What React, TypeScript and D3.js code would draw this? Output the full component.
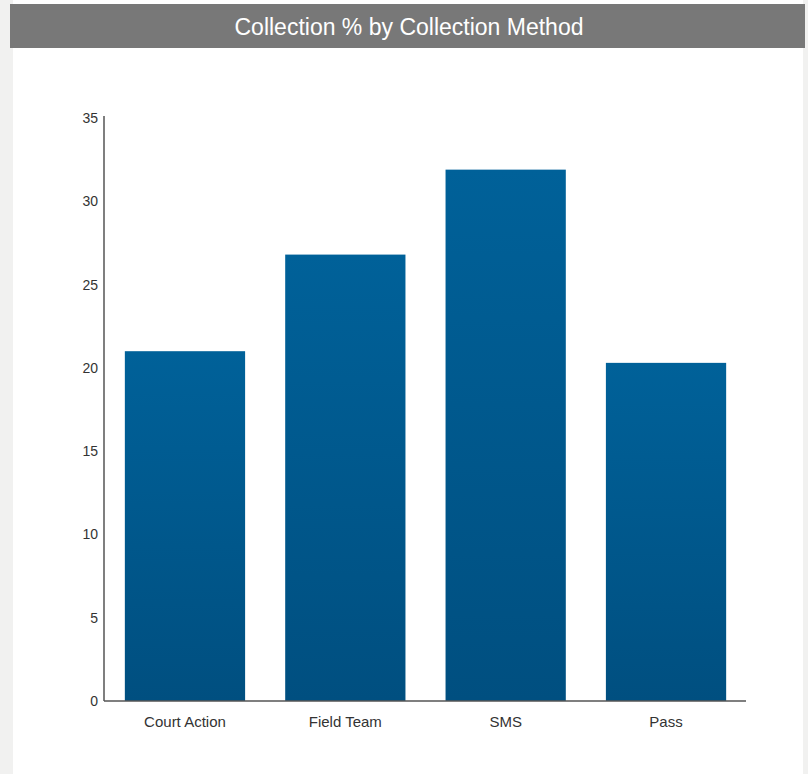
import React from "react";
import * as d3 from "d3";

const categories = ["Court Action", "Field Team", "SMS", "Pass"];
const values = [21.0, 26.8, 31.9, 20.3];
const yTicks = [0, 5, 10, 15, 20, 25, 30, 35];
const title = "Collection % by Collection Method";

export default function App() {
  const W = 808, H = 774;
  const x = d3.scaleBand<string>().domain(categories).range([104, 747]).paddingInner(0.25).paddingOuter(0.13);
  const y = d3.scaleLinear().domain([0, 35]).range([701, 118]);
  return (
    <svg width={W} height={H} style={{ position: "absolute", left: 0, top: 0 }} fontFamily="Liberation Sans, Arial, sans-serif">
      <defs>
        <linearGradient id="barGrad" x1="0" y1="0" x2="0" y2="1">
          <stop offset="0%" stopColor="#006199" />
          <stop offset="100%" stopColor="#004f80" />
        </linearGradient>
      </defs>
      <rect x={0} y={0} width={W} height={H} fill="#ffffff" />
      <rect x={0} y={0} width={13} height={H} fill="#f1f1f0" />
      <rect x={803} y={0} width={5} height={H} fill="#f1f1f0" />
      <rect x={10} y={4} width={795} height={44} fill="#787878" />
      <text x={409} y={35} textAnchor="middle" fill="#ffffff" fontSize={23}>{title}</text>
      {categories.map((c, i) => (
        <rect key={c} x={x(c)} y={y(values[i])} width={x.bandwidth()} height={y(0) - y(values[i])} fill="url(#barGrad)" />
      ))}
      <line x1={104} x2={104} y1={y(35) - 2} y2={y(0)} stroke="#555" strokeWidth={1.5} />
      <line x1={104} x2={746} y1={y(0)} y2={y(0)} stroke="#555" strokeWidth={1.5} />
      {yTicks.map((t) => (
        <text key={t} x={98} y={y(t) + 5} textAnchor="end" fontSize={14} fill="#333">{t}</text>
      ))}
      {categories.map((c) => (
        <text key={c} x={(x(c) as number) + x.bandwidth() / 2} y={727} textAnchor="middle" fontSize={15} fill="#333">{c}</text>
      ))}
    </svg>
  );
}
